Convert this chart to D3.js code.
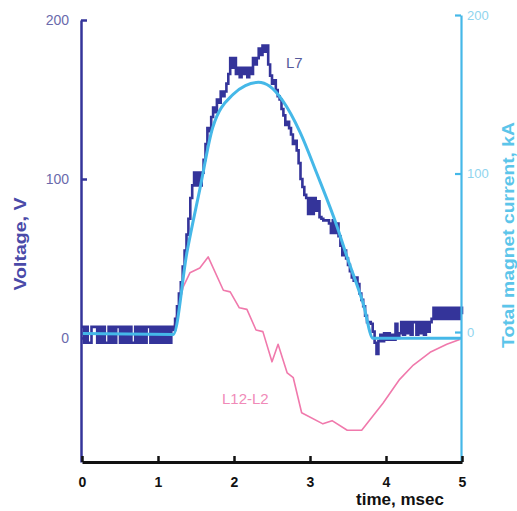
<!DOCTYPE html>
<html>
<head>
<meta charset="utf-8">
<script src="https://cdn.jsdelivr.net/npm/d3@7"></script>
<style>
  html, body { margin: 0; padding: 0; background: #ffffff; }
  svg { display: block; font-family: "Liberation Sans", Arial, sans-serif; }
</style>
</head>
<body>
<svg id="chart" width="517" height="511"></svg>
<script>
// ---------------- DATA ----------------
const xTicks = [0, 1, 2, 3, 4, 5];
const voltTicks = [0, 100, 200];
const currentTicks = [0, 100, 200];

// L7 voltage trace (V), sampled every 0.025 msec from 0 to 5 msec
const l7Step = 0.025;
const l7Volts = [
  7,-3,7,-3,-3,7,7,7,-3,7,
  -3,7,-3,-3,7,-3,7,-3,7,7,
  -3,7,-3,7,-3,7,-3,-3,7,-3,
  7,-3,7,-3,7,7,-3,7,-3,7,
  -3,7,-3,7,-3,7,-3,7,
  5,
  12,20,28,35,45,55,65,75,88,
  96,104,96,104,96,104,112,122,132,130,
  139,145,142,150,148,155,152,155,160,166,
  176,170,176,166,170,164,170,166,170,164,
  170,166,176,172,176,182,178,184,180,184,
  172,165,160,162,156,152,150,144,140,134,
  136,132,128,122,124,118,110,100,95,90,
  88,78,88,78,88,80,86,76,75,74,
  74,74,72,66,74,66,72,64,58,52,
  55,50,46,42,38,36,38,34,28,24,
  20,14,10,10,9,4,-3,-10,-2,2,
  -2,3,-1,3,-1,2,-1,9,0,3,
  10,2,10,3,10,2,10,10,2,10,
  3,10,2,10,4,10,12,19,12,19,
  12,19,12,19,12,19,12,19,12,19,
  12,19,15
];

// Total magnet current (kA, right axis)
const currentTime = [0, 1.2, 1.38, 1.55, 1.72, 1.99, 2.15, 2.32, 2.47, 2.64, 2.87, 3.09, 3.36, 3.49, 3.70, 3.83, 3.95, 5.0];
const currentKA   = [-1, -1.5, 50, 90, 129, 150, 155.5, 157.5, 155, 146, 126, 100, 66, 47, 18, -4, -4, -4];

// L12-L2 voltage difference (V, left axis)
const diffTime = [1.2, 1.33, 1.42, 1.55, 1.66, 1.86, 1.95, 2.07, 2.17, 2.29, 2.38, 2.5, 2.58, 2.70, 2.78, 2.89, 3.17, 3.29, 3.49, 3.68, 3.96, 4.18, 4.36, 4.58, 4.80, 4.97];
const diffVolts = [5, 32, 41, 44, 51, 30, 29, 19, 18, 5, 4, -15, -4, -22, -25, -47, -54, -52, -58, -58, -41, -26, -17, -9, -4, -1];

// ---------------- CHART ----------------
const svg = d3.select("#chart");
const colL7 = "#34349a";
const colCur = "#45b8e8";
const colDiff = "#f079ac";
const FONT = "Liberation Sans, Arial, sans-serif";

const x = d3.scaleLinear().domain([0, 5]).range([82, 462]);
const yL = d3.scaleLinear().domain([-78, 200]).range([462, 20]);
const yR = d3.scaleLinear().domain([-82, 200]).range([462, 15]);

// Lines
const diffData = diffTime.map((t, i) => [t, diffVolts[i]]);
svg.append("path")
  .datum(diffData)
  .attr("fill", "none")
  .attr("stroke", colDiff)
  .attr("stroke-width", 1.6)
  .attr("stroke-linejoin", "round")
  .attr("d", d3.line().x(d => x(d[0])).y(d => yL(d[1])));

const l7Data = l7Volts.map((v, i) => [i * l7Step, v]);
svg.append("path")
  .datum(l7Data)
  .attr("fill", "none")
  .attr("stroke", colL7)
  .attr("stroke-width", 2.6)
  .attr("d", d3.line().curve(d3.curveStepAfter).x(d => x(d[0])).y(d => yL(d[1])));

const curData = currentTime.map((t, i) => [t, currentKA[i]]);
svg.append("path")
  .datum(curData)
  .attr("fill", "none")
  .attr("stroke", colCur)
  .attr("stroke-width", 3)
  .attr("d", d3.line().curve(d3.curveMonotoneX).x(d => x(d[0])).y(d => yR(d[1])));

// Left axis
const gL = svg.append("g")
  .attr("transform", "translate(81,0)")
  .call(d3.axisLeft(yL).tickValues(voltTicks).tickSizeInner(-6).tickSizeOuter(0).tickPadding(12));
gL.select(".domain").attr("stroke", colL7).attr("stroke-width", 2.5);
gL.selectAll(".tick line").attr("stroke", colL7).attr("stroke-width", 2.5);
gL.selectAll(".tick text").attr("fill", "#6a6aac").attr("font-size", 14).attr("font-family", FONT);

// Right axis
const gR = svg.append("g")
  .attr("transform", "translate(461,0)")
  .call(d3.axisRight(yR).tickValues(currentTicks).tickSizeInner(-6).tickSizeOuter(0).tickPadding(6));
gR.select(".domain").attr("stroke", colCur).attr("stroke-width", 2.2);
gR.selectAll(".tick line").attr("stroke", colCur).attr("stroke-width", 2.2);
gR.selectAll(".tick text").attr("fill", "#8fd4ee").attr("font-size", 13).attr("font-family", FONT);

// Bottom axis
const gB = svg.append("g")
  .attr("transform", "translate(0,462)")
  .call(d3.axisBottom(x).tickValues(xTicks).tickFormat(d3.format("d")).tickSizeInner(-6).tickSizeOuter(0).tickPadding(15));
gB.select(".domain").attr("stroke", "#111").attr("stroke-width", 3);
gB.selectAll(".tick line").attr("stroke", "#111").attr("stroke-width", 2.5);
gB.selectAll(".tick text").attr("fill", "#111").attr("font-size", 14).attr("font-weight", "bold").attr("font-family", FONT);

// Axis titles
svg.append("text")
  .attr("transform", "translate(26,244) rotate(-90)")
  .attr("text-anchor", "middle")
  .attr("font-size", 17).attr("font-weight", "bold")
  .attr("textLength", 93).attr("lengthAdjust", "spacingAndGlyphs")
  .attr("fill", "#4a4aa8")
  .text("Voltage, V");

svg.append("text")
  .attr("transform", "translate(514,235) rotate(-90)")
  .attr("text-anchor", "middle")
  .attr("font-size", 16).attr("font-weight", "bold")
  .attr("textLength", 226).attr("lengthAdjust", "spacingAndGlyphs")
  .attr("fill", "#5cc5ea")
  .text("Total magnet current, kA");

svg.append("text")
  .attr("x", 400).attr("y", 505)
  .attr("text-anchor", "middle")
  .attr("font-size", 17).attr("font-weight", "bold")
  .attr("fill", "#111")
  .text("time, msec");

// Series labels
svg.append("text")
  .attr("x", 286).attr("y", 68)
  .attr("font-size", 15)
  .attr("fill", "#555a9c")
  .text("L7");

svg.append("text")
  .attr("x", 222).attr("y", 404)
  .attr("font-size", 15)
  .attr("fill", "#f08ab8")
  .text("L12-L2");
</script>
</body>
</html>
